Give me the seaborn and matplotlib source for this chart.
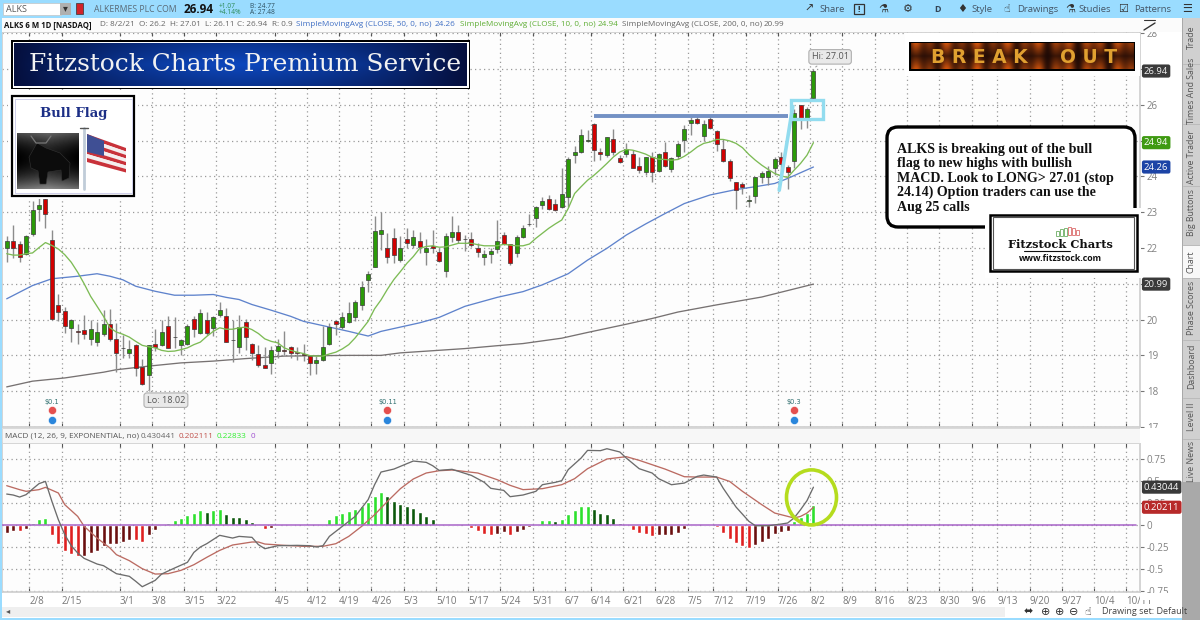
import matplotlib
matplotlib.use("Agg")
import matplotlib.pyplot as plt
import numpy as np
import pandas as pd
import seaborn as sns
from matplotlib.patches import Ellipse, FancyBboxPatch, Polygon, Rectangle

# daily candles, bar 1 is the first visible session
opens = [22.0, 22.2, 22.12, 21.84, 22.39, 23.1, 23.36, 22.23, 20.41, 20.25, 19.76, 19.69, 19.7, 19.45, 19.37, 19.6,
         19.88, 19.47, 19.2, 19.07, 19.3, 18.67, 18.45, 19.32, 19.29, 19.83, 19.52, 19.29, 19.33, 20.01, 19.63, 19.98,
         19.76, 20.13, 20.1, 19.44, 19.24, 19.94, 19.33, 19.05, 18.73, 18.8, 19.13, 19.14, 19.23, 19.09, 19.05, 18.97,
         18.78, 18.86, 19.33, 19.96, 19.79, 19.92, 20.06, 20.42, 21.11, 21.47, 22.4, 22.0, 22.28, 21.66, 22.26, 22.07,
         22.19, 21.9, 22.06, 21.89, 21.37, 22.31, 22.45, 22.26, 22.25, 21.99, 21.76, 21.82, 21.98, 22.36, 22.11, 21.85,
         22.3, 22.67, 22.84, 23.21, 23.36, 23.22, 23.13, 23.43, 24.59, 24.68, 24.98, 25.47, 24.67, 24.59, 25.03, 24.5,
         24.63, 24.63, 24.29, 24.12, 24.53, 24.15, 24.67, 24.2, 24.56, 25.01, 25.49, 25.6, 25.13, 25.6, 25.27, 24.76,
         24.43, 23.85, 23.78, 23.31, 23.46, 23.97, 23.99, 24.23, 24.54, 24.25, 24.43, 26.0, 25.63, 26.2]
highs = [22.32, 22.64, 22.18, 22.35, 23.3, 23.44, 23.5, 22.5, 20.71, 20.35, 20.02, 19.87, 20.14, 20.0, 19.92, 20.28,
         20.3, 19.9, 19.58, 19.44, 19.32, 18.91, 19.3, 19.75, 20.0, 20.11, 20.07, 19.47, 19.89, 20.09, 20.3, 20.2,
         20.09, 20.49, 20.32, 20.0, 20.12, 20.02, 19.35, 19.28, 19.24, 19.27, 19.46, 19.69, 19.25, 19.23, 19.33, 19.02,
         18.98, 19.83, 19.91, 19.98, 20.2, 20.48, 20.56, 21.07, 21.35, 22.9, 23.0, 22.41, 22.55, 22.32, 22.55, 22.5,
         22.45, 22.24, 22.5, 21.99, 22.41, 22.89, 22.64, 22.36, 22.45, 22.13, 21.94, 21.99, 22.78, 22.45, 22.12, 22.36,
         22.64, 22.94, 23.17, 23.43, 23.48, 23.38, 24.22, 24.53, 24.84, 25.31, 25.29, 25.48, 24.78, 25.1, 25.31, 24.59,
         24.92, 24.73, 24.54, 24.54, 24.68, 24.64, 24.96, 24.54, 24.96, 25.43, 25.66, 25.7, 25.57, 25.71, 25.29, 25.03,
         24.47, 23.85, 23.85, 23.48, 23.99, 24.15, 24.3, 24.54, 24.68, 24.31, 25.89, 26.0, 25.94, 27.01]
lows = [21.62, 21.72, 21.62, 21.81, 22.34, 22.74, 22.55, 20.0, 19.95, 19.63, 19.37, 19.32, 19.46, 19.3, 19.25, 19.53,
        19.39, 18.53, 18.93, 18.93, 18.42, 18.16, 18.02, 19.13, 19.25, 19.2, 19.21, 19.0, 19.3, 19.51, 19.61, 19.58,
        19.55, 20.08, 19.37, 18.82, 19.07, 19.16, 18.88, 18.68, 18.64, 18.49, 18.93, 19.02, 18.93, 18.88, 18.84, 18.45,
        18.49, 18.84, 19.3, 19.58, 19.74, 19.9, 19.95, 20.28, 20.77, 21.46, 21.95, 21.58, 21.58, 21.62, 21.99, 22.0,
        21.85, 21.52, 21.85, 21.62, 21.2, 22.17, 22.13, 21.92, 22.02, 21.76, 21.51, 21.57, 21.85, 22.08, 21.52, 21.76,
        22.27, 22.61, 22.59, 23.1, 23.06, 23.04, 23.12, 23.15, 24.36, 24.66, 24.96, 24.43, 24.45, 24.55, 24.59, 24.36,
        24.54, 24.22, 24.08, 24.03, 23.85, 24.13, 24.27, 24.13, 24.47, 24.68, 25.15, 25.47, 24.99, 25.33, 24.71, 24.4,
        23.88, 23.1, 23.52, 23.15, 23.26, 23.8, 23.75, 24.03, 23.99, 23.64, 24.22, 25.33, 25.36, 26.11]
closes = [22.2, 22.0, 21.76, 22.33, 23.05, 23.2, 22.94, 20.02, 20.22, 19.81, 19.98, 19.66, 19.59, 19.73, 19.65, 19.88,
          19.45, 19.06, 19.2, 19.19, 18.65, 18.21, 19.28, 19.23, 19.66, 19.21, 19.5, 19.42, 19.83, 19.75, 20.17, 19.63,
          20.06, 20.28, 19.38, 19.42, 19.8, 19.51, 19.06, 18.72, 18.66, 19.15, 19.26, 19.12, 19.06, 19.06, 19.0, 18.79,
          18.86, 19.23, 19.78, 19.87, 20.07, 20.17, 20.5, 20.92, 21.28, 22.48, 22.51, 21.76, 21.79, 22.01, 22.13, 22.31,
          22.04, 22.01, 21.99, 21.64, 22.34, 22.44, 22.22, 22.25, 22.07, 21.89, 21.82, 21.91, 22.18, 22.12, 21.59, 22.3,
          22.56, 22.68, 23.14, 23.3, 23.08, 23.07, 23.5, 24.48, 24.69, 25.15, 25.02, 24.73, 24.62, 25.09, 24.68, 24.41,
          24.75, 24.24, 24.17, 24.53, 24.12, 24.63, 24.29, 24.52, 24.9, 25.31, 25.57, 25.49, 25.45, 25.35, 24.9, 24.42,
          23.95, 23.63, 23.71, 23.33, 23.97, 24.1, 24.15, 24.48, 24.34, 24.13, 25.77, 25.63, 25.87, 26.94]

sma10 = [21.84, 21.80, 21.80, 21.84, 21.86, 22.01, 22.15, 22.07, 21.97, 21.81, 21.60, 21.32, 21.00, 20.65, 20.37, 20.09,
         19.77, 19.65, 19.59, 19.51, 19.39, 19.28, 19.24, 19.21, 19.14, 19.11, 19.12, 19.16, 19.21, 19.30, 19.37, 19.53,
         19.67, 19.77, 19.73, 19.73, 19.77, 19.79, 19.72, 19.61, 19.46, 19.39, 19.35, 19.21, 19.14, 19.09, 19.05, 18.99,
         18.98, 18.98, 19.04, 19.09, 19.18, 19.30, 19.49, 19.72, 19.95, 20.30, 20.55, 20.85, 21.12, 21.34, 21.57, 21.76,
         21.99, 22.04, 22.06, 22.02, 22.03, 22.08, 22.13, 22.13, 22.13, 22.09, 22.06, 22.06, 22.06, 22.10, 22.08, 22.06,
         22.06, 22.11, 22.27, 22.41, 22.55, 22.67, 22.78, 23.10, 23.52, 23.71, 23.89, 24.03, 24.19, 24.36, 24.54, 24.68,
         24.75, 24.73, 24.68, 24.62, 24.53, 24.48, 24.47, 24.45, 24.47, 24.56, 24.68, 24.82, 24.92, 24.96, 25.03, 25.03,
         24.99, 24.92, 24.80, 24.61, 24.45, 24.31, 24.19, 24.08, 24.01, 23.97, 24.17, 24.36, 24.59, 24.94]

sma50_bars = [1, 5, 8, 12, 15, 17, 19, 21, 24, 27, 30, 33, 35, 37, 39, 42, 45, 47, 50, 54, 57, 59, 62, 65, 68, 72, 77,
              81, 84, 88, 91, 94, 97, 100, 103, 106, 110, 114, 117, 120, 122, 126]
sma50 = [20.58, 20.95, 21.14, 21.21, 21.28, 21.21, 21.11, 20.93, 20.79, 20.68, 20.68, 20.70, 20.62, 20.56, 20.42, 20.26,
         20.09, 19.95, 19.83, 19.67, 19.54, 19.67, 19.79, 19.91, 20.06, 20.37, 20.62, 20.78, 20.97, 21.28, 21.66, 21.99,
         22.36, 22.67, 22.96, 23.24, 23.48, 23.63, 23.71, 23.80, 23.94, 24.26]
sma200_bars = [1, 5, 10, 16, 18, 23, 28, 33, 38, 44, 49, 54, 59, 62, 67, 72, 77, 81, 87, 91, 97, 101, 105, 111, 118, 126]
sma200 = [18.12, 18.28, 18.37, 18.53, 18.60, 18.70, 18.79, 18.84, 18.91, 18.98, 18.99, 19.00, 19.00, 19.07, 19.13,
          19.19, 19.27, 19.33, 19.48, 19.64, 19.87, 20.03, 20.21, 20.41, 20.63, 20.99]

macd_hist = [-0.087, -0.064, -0.072, -0.042, 0.023, 0.072, 0.076, -0.114, -0.216, -0.295, -0.330, -0.352, -0.348,
             -0.322, -0.295, -0.235, -0.220, -0.220, -0.197, -0.167, -0.174, -0.189, -0.117, -0.061, 0.008, 0.023,
             0.057, 0.083, 0.117, 0.136, 0.174, 0.152, 0.167, 0.178, 0.129, 0.095, 0.094, 0.072, 0.030, -0.015,
             -0.045, -0.030, -0.011, -0.004, -0.003, -0.002, -0.002, -0.001, -0.001, 0.015, 0.072, 0.110, 0.136,
             0.159, 0.186, 0.220, 0.258, 0.333, 0.371, 0.330, 0.277, 0.242, 0.216, 0.193, 0.144, 0.102, 0.068,
             0.011, 0.012, 0.013, 0.0, -0.015, -0.038, -0.072, -0.098, -0.110, -0.098, -0.083, -0.117, -0.083,
             -0.053, -0.019, 0.015, 0.053, 0.054, 0.045, 0.068, 0.125, 0.171, 0.216, 0.217, 0.178, 0.136, 0.129,
             0.080, 0.023, 0.0, -0.053, -0.095, -0.098, -0.121, -0.117, -0.116, -0.115, -0.087, -0.045, 0.0,
             0.015, 0.016, 0.008, -0.027, -0.087, -0.155, -0.208, -0.239, -0.265, -0.227, -0.197, -0.159, -0.106,
             -0.076, -0.064, 0.042, 0.095, 0.140, 0.228]

macd_bars = [1, 2, 3, 4, 5, 6, 7, 8, 9, 10, 11, 12, 13, 15, 16, 17, 18, 20, 21, 22, 24, 25, 27, 29, 30, 31, 32, 34, 36,
             37, 39, 40, 41, 43, 46, 48, 49, 50, 51, 53, 55, 56, 57, 58, 59, 61, 63, 64, 66, 67, 68, 70, 71, 73, 75,
             76, 78, 79, 81, 83, 84, 86, 87, 88, 90, 91, 93, 94, 96, 97, 99, 101, 102, 104, 106, 108, 109, 111, 112,
             114, 116, 117, 119, 121, 122, 123, 124, 125, 126]
macd_line = [0.352, 0.341, 0.318, 0.345, 0.409, 0.470, 0.496, 0.269, 0.061, -0.110, -0.235, -0.318, -0.379, -0.443,
             -0.462, -0.508, -0.553, -0.583, -0.640, -0.701, -0.629, -0.557, -0.489, -0.424, -0.311, -0.250, -0.212,
             -0.117, -0.148, -0.129, -0.140, -0.223, -0.269, -0.235, -0.231, -0.235, -0.250, -0.235, -0.129, -0.015,
             0.098, 0.193, 0.288, 0.458, 0.602, 0.636, 0.697, 0.727, 0.712, 0.674, 0.621, 0.633, 0.610, 0.564, 0.485,
             0.417, 0.394, 0.322, 0.341, 0.383, 0.458, 0.485, 0.504, 0.629, 0.761, 0.848, 0.845, 0.867, 0.830, 0.761,
             0.640, 0.591, 0.527, 0.458, 0.477, 0.553, 0.568, 0.545, 0.420, 0.205, 0.042, -0.008, -0.008, 0.011,
             0.023, 0.080, 0.174, 0.277, 0.430]
signal_bars = [1, 3, 4, 6, 7, 9, 10, 12, 13, 15, 17, 18, 20, 22, 24, 26, 28, 30, 32, 34, 36, 39, 40, 41, 44, 47, 50,
               52, 54, 56, 58, 60, 62, 64, 66, 68, 70, 71, 74, 77, 79, 81, 84, 87, 89, 91, 94, 97, 99, 103, 106, 108,
               111, 113, 115, 118, 120, 123, 124, 125, 126]
signal_line = [0.447, 0.402, 0.383, 0.402, 0.428, 0.364, 0.231, 0.098, -0.015, -0.148, -0.261, -0.337, -0.405, -0.496,
               -0.557, -0.553, -0.515, -0.451, -0.367, -0.288, -0.227, -0.193, -0.193, -0.216, -0.231, -0.242, -0.242,
               -0.212, -0.129, -0.015, 0.117, 0.269, 0.413, 0.523, 0.591, 0.617, 0.625, 0.617, 0.591, 0.515, 0.451,
               0.402, 0.413, 0.458, 0.527, 0.640, 0.750, 0.777, 0.735, 0.636, 0.549, 0.545, 0.545, 0.496, 0.383,
               0.231, 0.136, 0.080, 0.098, 0.136, 0.202]

# trading-day position of each weekly gridline and its date label
date_ticks = [4.5, 9.5, 18.5, 23.5, 28.5, 33.5, 42.5, 47.5, 52.5, 57.5, 62.5, 67.5, 72.5, 77.5, 82.5, 87.5, 91.5, 96.5,
              101.5, 106.5, 110.5, 115.5, 120.5, 125.5, 130.5, 135.5, 140.5, 145.5, 150.5, 154.5, 159.5, 164.5, 169.5,
              174.5]
date_labels = ["2/8", "2/15", "3/1", "3/8", "3/15", "3/22", "4/5", "4/12", "4/19", "4/26", "5/3", "5/10", "5/17", "5/24",
               "5/31", "6/7", "6/14", "6/21", "6/28", "7/5", "7/12", "7/19", "7/26", "8/2", "8/9", "8/16", "8/23", "8/30",
               "9/6", "9/13", "9/20", "9/27", "10/4", "10/11"]
price_ticks = [17, 18, 19, 20, 21, 22, 23, 24, 25, 26, 27, 28]
# 21, 25 and 27 sit under the last-value tags in the platform
price_tick_labels = ["17", "18", "19", "20", "", "22", "23", "24", "", "26", "", "28"]
macd_ticks = [-0.75, -0.5, -0.25, 0, 0.25, 0.5, 0.75]
macd_tick_labels = ["-0.75", "-0.5", "-0.25", "0", "0.25", "0.5", "0.75"]

W, H = 1200, 620
GREEN, RED = "#2b9a08", "#d20000"
GRID = "#9a9a9a"
SKY = "#9adcff"

sns.set_theme(style="white")
plt.rcParams["font.family"] = ["Open Sans", "DejaVu Sans"]
plt.rcParams["axes.unicode_minus"] = False


def axes_px(left, top, right, bottom):
    return fig.add_axes([left / W, 1 - bottom / H, (right - left) / W, (bottom - top) / H])


df = pd.DataFrame({"bar": np.arange(1, len(opens) + 1), "open": opens, "high": highs, "low": lows, "close": closes,
                   "sma10": sma10, "hist": macd_hist})
df["up"] = df["close"] >= df["open"]
prev_hist = df["hist"].shift(1)
df["shade"] = np.select(
    [(df["hist"] >= 0) & (df["hist"] > prev_hist), df["hist"] >= 0, df["hist"] < prev_hist],
    ["rise_up", "fall_up", "fall_down"], default="rise_down")

fig = plt.figure(figsize=(W / 100, H / 100), dpi=100, facecolor="white")
ax = axes_px(2, 32, 1140, 427)
mx = axes_px(2, 443, 1140, 592)

for a in (ax, mx):
    a.set_facecolor("#fdfdfd")
    a.set_xlim(0.27, 176.6)
    a.set_xticks(date_ticks)
    a.yaxis.tick_right()
    a.grid(True, color=GRID, linestyle=(0, (1, 2.6)), linewidth=0.9)
    a.set_axisbelow(True)
    a.tick_params(axis="x", top=True, bottom=True, direction="in", length=3, width=0.8, color="#555555")
    a.tick_params(axis="y", right=True, direction="out", length=3, width=0.8, color="#777777",
                  labelsize=7, labelcolor="#808080", pad=2)
    for s in a.spines.values():
        s.set_color("#cfcfcf")

# price panel
ax.set_ylim(17.03, 28.03)
ax.set_yticks(price_ticks)
ax.set_yticklabels(price_tick_labels)
ax.set_xticklabels([])

sns.lineplot(x=sma200_bars, y=sma200, color="#777272", linewidth=0.95, ax=ax, zorder=2)
sns.lineplot(x=sma50_bars, y=sma50, color="#5f83cc", linewidth=0.95, ax=ax, zorder=2)
ax.vlines(df["bar"], df["low"], df["high"], color="#8c8c8c", linewidth=1.0, zorder=3)
body_lo = df[["open", "close"]].min(axis=1)
body_hi = df[["open", "close"]].max(axis=1)
ax.bar(df["bar"], body_hi - body_lo, bottom=body_lo, width=0.62, linewidth=0.5, edgecolor="#3a3a3a",
       color=[GREEN if u else RED for u in df["up"]], zorder=4)
sns.lineplot(data=df, x="bar", y="sma10", color="#7dbb55", linewidth=0.95, ax=ax, zorder=5)
ax.set_xlabel("")
ax.set_ylabel("")

# hand drawn bull flag
ax.plot([92, 122], [25.69, 25.69], color="#7391c4", linewidth=2.8, solid_capstyle="butt", zorder=6)
ax.plot([120.7, 122.8], [23.61, 25.95], color="#92dcef", linewidth=2.6, zorder=6)
ax.add_patch(Rectangle((122.5, 25.61), 5, 0.53, fill=False, edgecolor="#92dcef", linewidth=2.4, zorder=6))

ax.annotate("Hi: 27.01", xy=(126, 27.01), xytext=(12, 8.4), textcoords="offset points", ha="center", va="center",
            fontsize=6.6, color="#555555", zorder=7,
            bbox=dict(boxstyle="round,pad=0.3", fc="#e9e9e9", ec="#b0b0b0", lw=0.8),
            arrowprops=dict(arrowstyle="-", color="#a0a0a0", lw=0.8))
ax.annotate("Lo: 18.02", xy=(23, 18.02), xytext=(12.4, -7), textcoords="offset points", ha="center", va="center",
            fontsize=6.6, color="#555555", zorder=7,
            bbox=dict(boxstyle="round,pad=0.3", fc="#e9e9e9", ec="#b0b0b0", lw=0.8),
            arrowprops=dict(arrowstyle="-", color="#a0a0a0", lw=0.8))

# dividend and earnings flags
for bar, amount in zip([8, 60, 123], ["$0.1", "$0.11", "$0.3"]):
    ax.text(bar, 17.7, amount, ha="center", va="center", fontsize=4.8, color="#2f6f6f", family="DejaVu Sans")
    ax.scatter([bar], [17.47], s=34, color="#e4504f", edgecolor="white", linewidth=0.4, zorder=6)
    ax.scatter([bar], [17.2], s=34, color="#2a86dc", edgecolor="white", linewidth=0.4, zorder=6)

for value, tag, bg, fg in [(26.94, "26.94", "#3a3a3a", "#f0f0f0"), (24.94, "24.94", "#3f9a12", "white"),
                           (24.26, "24.26", "#1c44a6", "white"), (20.99, "20.99", "#3a3a3a", "#f0f0f0")]:
    ax.text(1.0035, value, tag, transform=ax.get_yaxis_transform(), ha="left", va="center", fontsize=6.8, color=fg,
            clip_on=False, zorder=8, bbox=dict(boxstyle="round,pad=0.22", fc=bg, ec="none"))

# MACD panel
sns.barplot(data=df, x="bar", y="hist", hue="shade",
            palette={"rise_up": "#0fff0f", "fall_up": "#006400", "fall_down": "#ff0000", "rise_down": "#7a0000"},
            native_scale=True, dodge=False, width=0.62, legend=False, ax=mx, zorder=3)
sns.lineplot(x=signal_bars, y=signal_line, color="#bb6b62", linewidth=0.95, ax=mx, zorder=4)
sns.lineplot(x=macd_bars, y=macd_line, color="#6c6c6c", linewidth=0.95, ax=mx, zorder=5)
mx.plot([0.27, 176], [0, 0], color="#a864c8", linewidth=1.1, zorder=4)
mx.set_xlim(0.27, 176.6)
mx.set_ylim(-0.761, 0.932)
mx.set_yticks(macd_ticks)
mx.set_yticklabels(macd_tick_labels)
mx.set_xticks(date_ticks)
mx.set_xticklabels(date_labels, ha="left", fontsize=7, color="#777777")
mx.tick_params(axis="x", pad=3)
mx.set_xlabel("")
mx.set_ylabel("")
mx.add_patch(Ellipse((125.7, 0.314), 7.75, 0.625, fill=False, edgecolor="#b5dc1e", linewidth=2.6, zorder=6))

for value, tag, bg in [(0.43044, "0.43044", "#3a3a3a"), (0.20211, "0.20211", "#b72a2a")]:
    mx.text(1.0035, value, tag, transform=mx.get_yaxis_transform(), ha="left", va="center", fontsize=6.8,
            color="white", clip_on=False, zorder=8, bbox=dict(boxstyle="round,pad=0.22", fc=bg, ec="none"))

# overlay in pixel coordinates for the platform chrome and the pasted pictures
ov = fig.add_axes([0, 0, 1, 1], zorder=10)
ov.set_xlim(0, W)
ov.set_ylim(H, 0)
ov.axis("off")
ov.patch.set_alpha(0)


def box(x0, y0, x1, y1, **kw):
    kw.setdefault("linewidth", 0)
    ov.add_patch(Rectangle((x0, y0), x1 - x0, y1 - y0, **kw))


def label(x, y, s, size=7, color="#555555", **kw):
    kw.setdefault("ha", "left")
    kw.setdefault("va", "center")
    ov.text(x, y, s, fontsize=size, color=color, **kw)


def picture(arr, x0, y0, x1, y1, **kw):
    ov.imshow(arr, extent=(x0, x1, y1, y0), aspect="auto", zorder=1.2, **kw)
    ov.set_xlim(0, W)
    ov.set_ylim(H, 0)


# window frame
box(0, 0, W, 18, facecolor=SKY)
box(0, 18, 2, H, facecolor=SKY)
box(0, 618, W, H, facecolor=SKY)
box(2, 18, 1182, 32, facecolor="#fbfbfb")
box(2, 428, 1140, 443, facecolor="#f7f7f7", edgecolor="#d4d4d4", linewidth=0.6)
box(1140, 428, 1182, 443, facecolor="white")
box(1140, 593, 1182, 600, facecolor="white")
box(2, 607, 1005, 617, facecolor="#efefef")
box(1182, 18, W, H, facecolor="#a9a9a9")
box(1183, 18, W, 482, facecolor="#d0d0d0")
box(1183, 246, W, 278, facecolor="#f8f8f8")

# top bar
box(3, 3, 61, 15, facecolor="white", edgecolor="#c4c4c4", linewidth=0.5)
box(60, 3, 71, 15, facecolor="#b0b0b0")
label(6, 9, "ALKS", 6.5, "#555555")
ov.text(65.5, 9, "▾", fontsize=7, color="#333333", ha="center", va="center")
box(76, 3, 83, 14, facecolor="#d2232a", edgecolor="#333333", linewidth=0.5)
label(94, 9, "ALKERMES PLC COM", 6.2, "#5a6a76")
label(184, 9.5, "26.94", 8.5, "#111111", fontweight="bold")
label(219, 6, "+1.07", 4.8, "#2d8a57")
label(219, 13, "+4.14%", 4.8, "#2d8a57")
label(250, 6, "B: 24.77", 4.8, "#2e5060")
label(250, 13, "A: 27.48", 4.8, "#2e5060")

for x, s in [(819, "Share"), (971, "Style"), (1017, "Drawings"), (1078, "Studies"), (1134, "Patterns")]:
    label(x, 9.5, s, 6.8, "#445566")
label(934, 9.5, "D", 6.5, "#334455", fontweight="bold")
for x, glyph in [(809, "↗"), (883, "⚗"), (908, "⚙"), (962, "♦"), (1007, "☝"), (1070, "⚗"), (1123, "☑"), (1187, "☰")]:
    ov.text(x, 9, glyph, fontsize=8, color="#333333", ha="center", va="center", family="DejaVu Sans")
box(854, 4, 864, 14, facecolor="none", edgecolor="#333333", linewidth=0.9)
ov.text(859, 9, "!", fontsize=6, color="#222222", ha="center", va="center", fontweight="bold")
ov.plot([1144, 1155], [30, 23], color="#333333", linewidth=1)
ov.plot([1144, 1155], [20, 20], color="#333333", linewidth=0.8)

# study legend row
legend_row = [(4, "ALKS 6 M 1D [NASDAQ]", "#111111", "bold"), (100, "D: 8/2/21", "#666666", "normal"),
              (139, "O: 26.2", "#666666", "normal"), (170, "H: 27.01", "#666666", "normal"),
              (205, "L: 26.11", "#666666", "normal"), (237, "C: 26.94", "#666666", "normal"),
              (272, "R: 0.9", "#666666", "normal"), (296, "SimpleMovingAvg (CLOSE, 50, 0, no)", "#3f6fc4", "normal"),
              (435, "24.26", "#3f6fc4", "normal"), (460, "SimpleMovingAvg (CLOSE, 10, 0, no)", "#5fae35", "normal"),
              (598, "24.94", "#5fae35", "normal"), (622, "SimpleMovingAvg (CLOSE, 200, 0, no)", "#666666", "normal"),
              (764, "20.99", "#666666", "normal")]
for x, s, c, w in legend_row:
    label(x, 25, s, 5.6 if w == "bold" else 5.9, c, fontweight=w)

macd_row = [(5, "MACD (12, 26, 9, EXPONENTIAL, no)", "#555555"), (141, "0.430441", "#666666"),
            (179, "0.202111", "#c0504a"), (217, "0.22833", "#33ee33"), (251, "0", "#a050d0")]
for x, s, c in macd_row:
    label(x, 436, s, 5.9, c)

# side tabs
tabs = [(37, "Trade"), (91, "Times And Sales"), (157, "Active Trader"), (213, "Big Buttons"), (262, "Chart"),
        (308, "Phase Scores"), (366, "Dashboard"), (417, "Level II"), (461, "Live News")]
for y, s in tabs:
    ov.text(1191.5, y, s, fontsize=6.3, rotation=90, color="#555555", ha="center", va="center")
for y in [64, 124, 186, 245, 278, 340, 398, 439]:
    ov.plot([1183, W], [y, y], color="#b8b8b8", linewidth=0.6)

# bottom status row
for x, glyph in [(1028, "⬌"), (1046, "⊕"), (1060, "⊕"), (1074, "⊖"), (1088, "☝")]:
    ov.text(x, 612, glyph, fontsize=8, color="#333333", ha="center", va="center", family="DejaVu Sans")
label(1102, 612, "Drawing set: Default", 6.5, "#444444")
label(6, 612, "◂", 6, "#555555")

# title banner
box(11, 40, 470, 89, facecolor="black")
box(12.5, 41.5, 468.5, 87.5, facecolor="white")
u = np.linspace(-1, 1, 200)
v = np.linspace(-1, 1, 40)
glow = np.clip(1 - np.abs(u)[None, :] ** 1.6, 0, 1) * (1 - 0.35 * np.abs(v)[:, None])
blue = np.dstack([0.02 + 0.03 * glow, 0.06 + 0.22 * glow, 0.24 + 0.50 * glow])
picture(blue, 14, 43, 467, 86)
ov.text(245, 64.5, "Fitzstock Charts Premium Service", fontsize=17.9, family="DejaVu Serif", color="#f2f2f2",
        ha="center", va="center")

# bull flag picture
box(8, 93, 138, 199, facecolor="white")
box(12, 96, 134, 196, facecolor="white", edgecolor="black", linewidth=1.6)
box(14.5, 99, 131.5, 193, facecolor="white", edgecolor="#c8c8e8", linewidth=0.6)
ov.text(74, 113.5, "Bull Flag", fontsize=9.5, family="DejaVu Serif", fontweight="bold", color="#1c2f86", ha="center",
        va="center")
yy, xx = np.mgrid[-1:1:56j, -1:1:62j]
smoke = np.clip(0.35 * (yy + 0.1) ** 2 + 0.10 * (1 - np.abs(xx)), 0, 0.65)
picture(smoke, 17, 133, 79, 189, cmap="gray", vmin=0, vmax=1)
ov.add_patch(Polygon([(29, 157), (37, 143), (46, 148), (60, 153), (70, 163), (69, 178), (62, 181), (61, 170),
                      (48, 172), (46, 184), (40, 184), (38, 171), (31, 168)], facecolor="#0c0c0c", edgecolor="#333333",
                     linewidth=0.4, zorder=1.5))
ov.plot([31, 36, 41, 46, 51], [136, 143, 143, 143, 136], color="#777777", linewidth=0.9)
ov.plot([84, 84], [128, 189], color="#c0ccd8", linewidth=2)
ov.plot([80, 88], [128, 128], color="#555555", linewidth=1)
for i in range(7):
    ov.add_patch(Polygon([(87, 134 + i * 4), (126, 148 + i * 3.5), (126, 151.5 + i * 3.5), (87, 138 + i * 4)],
                         facecolor="#c8323a" if i % 2 == 0 else "#f4eeee", linewidth=0, zorder=1.5))
ov.add_patch(Polygon([(87, 134), (104, 141), (104, 156), (87, 152)], facecolor="#3f4f94", linewidth=0, zorder=1.6))

# break out banner
box(905, 33, 1140, 76, facecolor="white")
box(909, 42, 1135, 71, facecolor="black")
xs = np.linspace(0, 30, 220)
ys = np.linspace(-1, 1, 26)
fire = (0.55 + 0.45 * np.sin(xs * 2.3) * np.cos(xs * 0.7))[None, :] * (0.25 + 0.75 * np.abs(ys))[:, None]
flame = np.dstack([0.10 + 0.72 * fire, 0.03 + 0.30 * fire, 0.02 + 0.03 * fire])
picture(flame, 910.5, 43.5, 1133.5, 69.5)
ov.text(1024, 57.5, "B R E A K     O U T", fontsize=13.5, fontweight="bold", color="#e0a030", ha="center", va="center",
        family="DejaVu Sans")

# comment box
ov.add_patch(FancyBboxPatch((887, 127), 248, 100, boxstyle="round,pad=0,rounding_size=11", facecolor="white",
                            edgecolor="black", linewidth=2.4))
comment = ["ALKS is breaking out of the bull", "flag to new highs with bullish", "MACD. Look to LONG> 27.01 (stop",
           "24.14) Option traders can use the", "Aug 25 calls"]
for y, s in zip([149, 163.5, 178, 192.5, 207], comment):
    ov.text(897, y, s, fontsize=10.1, family="Liberation Serif", fontweight="bold", color="#111111", va="center")

# logo
box(985, 208, 1141, 278, facecolor="white")
box(990, 214.5, 1136.5, 271, facecolor="white", edgecolor="black", linewidth=1.8)
box(993, 217, 1134, 268.5, facecolor="white", edgecolor="#555555", linewidth=0.8)
for x in [1056, 1060, 1064]:
    box(x, 228 + (1064 - x) * 0.35, x + 3, 236, facecolor="white", edgecolor="#80b878", linewidth=0.7)
for x in [1068, 1072, 1076]:
    box(x, 227 + (x - 1068) * 0.35, x + 3, 235, facecolor="white", edgecolor="#e08080", linewidth=0.7)
ov.text(1060.5, 245, "Fitzstock Charts", fontsize=8.2, family="DejaVu Serif", fontweight="bold", color="#111111",
        ha="center", va="center")
ov.plot([1024, 1070], [250.5, 250.5], color="#111111", linewidth=0.8)
ov.text(1060, 258.5, "www.fitzstock.com", fontsize=6.3, fontweight="bold", color="#111111", ha="center", va="center")

fig.savefig("out.png", dpi=100)
